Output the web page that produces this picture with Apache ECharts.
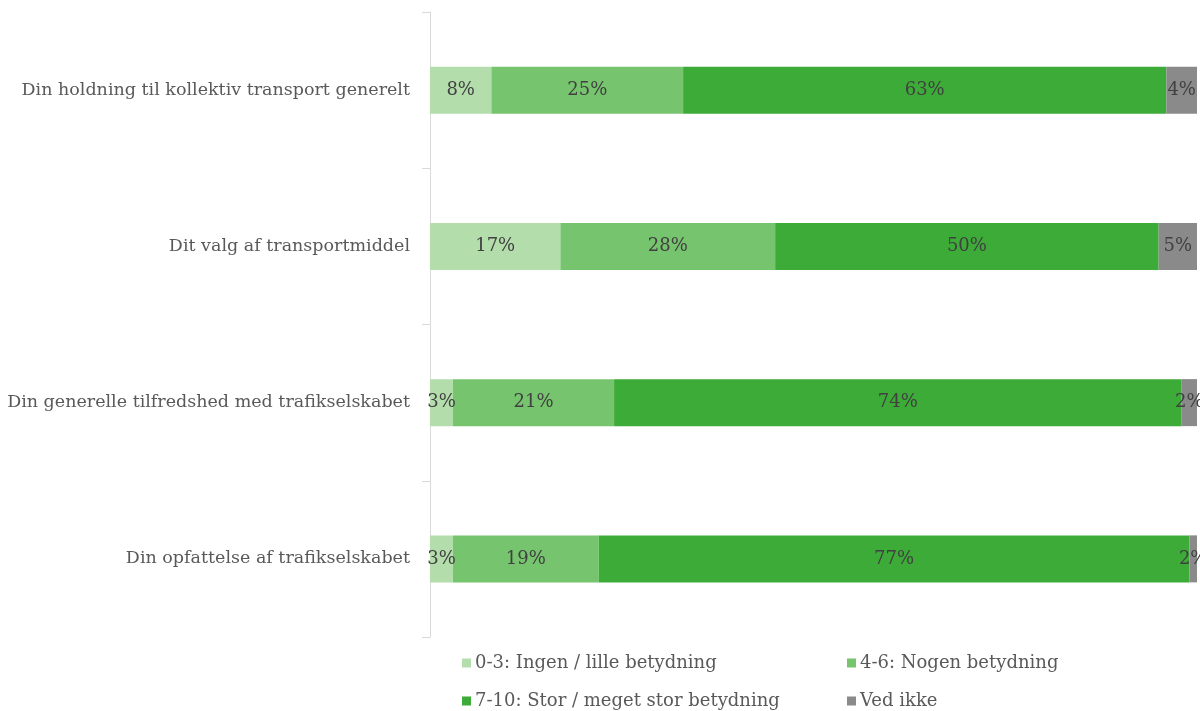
<!DOCTYPE html>
<html>
<head>
<meta charset="utf-8">
<script src="https://cdn.jsdelivr.net/npm/echarts@6/dist/echarts.min.js"></script>
<style>
  html, body { margin: 0; padding: 0; background: #ffffff; }
  #chart { width: 1200px; height: 711px; }
</style>
</head>
<body>
<div id="chart"></div>
<script>
// Survey questions (top to bottom)
const categories = [
  'Din holdning til kollektiv transport generelt',
  'Dit valg af transportmiddel',
  'Din generelle tilfredshed med trafikselskabet',
  'Din opfattelse af trafikselskabet'
];

// Answer groups
const seriesNames = [
  '0-3: Ingen / lille betydning',
  '4-6: Nogen betydning',
  '7-10: Stor / meget stor betydning',
  'Ved ikke'
];

// Share of answers (%) per question
const lowValues      = [8, 17, 3, 3];
const midValues      = [25, 28, 21, 19];
const highValues     = [63, 50, 74, 77];
const dontKnowValues = [4, 5, 2, 2];

const seriesColors = ['#b3deac', '#77c46f', '#3dab37', '#8a8a8a'];
const fontFamily = '"DejaVu Serif", Georgia, serif';

const valueSets = [lowValues, midValues, highValues, dontKnowValues];

const series = seriesNames.map((name, i) => ({
  name: name,
  type: 'bar',
  stack: 'total',
  barWidth: 47,
  itemStyle: { color: seriesColors[i] },
  label: {
    show: true,
    position: 'inside',
    formatter: p => p.value + '%',
    color: '#404040',
    fontFamily: fontFamily,
    fontSize: 18
  },
  emphasis: { disabled: true },
  data: valueSets[i]
}));

// One legend block per entry, laid out as a 2 x 2 grid
const legendPositions = [
  { left: 462, top: 654 },
  { left: 847, top: 654 },
  { left: 462, top: 692 },
  { left: 847, top: 692 }
];

const legends = seriesNames.map((name, i) => ({
  left: legendPositions[i].left,
  top: legendPositions[i].top,
  orient: 'horizontal',
  icon: 'rect',
  itemWidth: 9,
  itemHeight: 9,
  itemGap: 4,
  padding: 0,
  selectedMode: false,
  textStyle: { color: '#595959', fontFamily: fontFamily, fontSize: 18, padding: [0, 0, 0, -1] },
  data: [name]
}));

const chart = echarts.init(document.getElementById('chart'));
chart.setOption({
  animation: false,
  backgroundColor: '#ffffff',
  grid: { left: 430, right: 3, top: 12, bottom: 74, containLabel: false },
  xAxis: {
    type: 'value',
    min: 0,
    max: 100,
    show: false
  },
  yAxis: {
    type: 'category',
    inverse: true,
    data: categories,
    axisLine: { show: true, lineStyle: { color: '#d9d9d9', width: 1 } },
    axisTick: { show: true, length: 8, lineStyle: { color: '#d9d9d9' } },
    axisLabel: {
      margin: 20,
      color: '#595959',
      fontFamily: fontFamily,
      fontSize: 17.5
    },
    splitLine: { show: false }
  },
  legend: legends,
  series: series
});
</script>
</body>
</html>
